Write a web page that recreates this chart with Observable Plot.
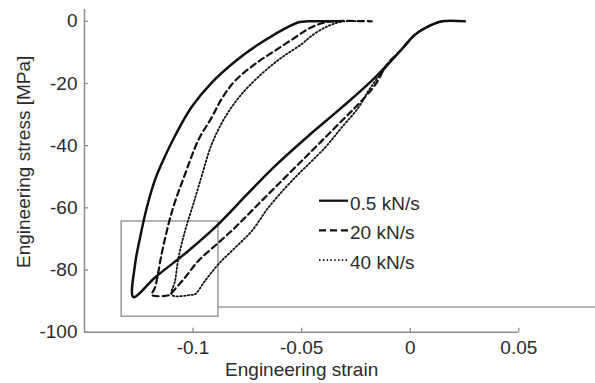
<!DOCTYPE html>
<html><head><meta charset="utf-8">
<script src="https://cdn.jsdelivr.net/npm/d3@7"></script>
<script src="https://cdn.jsdelivr.net/npm/@observablehq/plot@0.6"></script>
<style>
body{margin:0;background:#fff;}
#wrap{position:relative;width:595px;height:383px;}
</style></head><body><div id="wrap"></div>
<script>
// ---- data ----
const seriesNames = ["0.5 kN/s", "20 kN/s", "40 kN/s"];

const strain05 = [0.0251, 0.0146, 0.0100, 0.0022, -0.0038, -0.0161, -0.0315, -0.0468, -0.0622, -0.0745, -0.0899, -0.1021, -0.1175, -0.1275, -0.1267, -0.1244, -0.1213, -0.1177, -0.1145, -0.1083, -0.1006, -0.0914, -0.0808, -0.0707, -0.0622, -0.0514, -0.0468, -0.0333];
const stress05 = [0, 0, -1.1, -4.3, -8.9, -18.0, -27.7, -36.8, -46.5, -55.2, -66.3, -73.8, -82.4, -88.7, -78.1, -69.5, -59.9, -51.3, -45.8, -36.8, -27.5, -19.7, -13.0, -7.8, -4.1, -0.3, 0, 0];

const strain20 = [0.0146, 0.0100, 0.0022, -0.0038, -0.0107, -0.0161, -0.0238, -0.0315, -0.0468, -0.0622, -0.0729, -0.0806, -0.0883, -0.0975, -0.1037, -0.1098, -0.1107, -0.1190, -0.1175, -0.1145, -0.1113, -0.1083, -0.1043, -0.0975, -0.0914, -0.0868, -0.0806, -0.0714, -0.0622, -0.0530, -0.0468, -0.0407, -0.0361, -0.0177];
const stress20 = [0, -1.1, -4.3, -8.9, -13.9, -20.4, -26.6, -32.0, -42.7, -53.4, -60.9, -66.3, -71.2, -77.0, -82.4, -87.3, -88.0, -88.0, -85.6, -74.9, -65.2, -58.0, -50.3, -38.1, -30.9, -24.9, -19.1, -13.7, -9.4, -5.2, -2.4, -0.6, 0, 0];

const strain40 = [0.0146, 0.0100, 0.0022, -0.0038, -0.0094, -0.0146, -0.0192, -0.0238, -0.0315, -0.0392, -0.0545, -0.0653, -0.0729, -0.0806, -0.0883, -0.0945, -0.0991, -0.1006, -0.1098, -0.1083, -0.1067, -0.1037, -0.0999, -0.0960, -0.0914, -0.0853, -0.0776, -0.0684, -0.0591, -0.0499, -0.0453, -0.0384, -0.0315, -0.0246];
const stress40 = [0, -1.1, -4.3, -8.9, -13.3, -17.8, -22.3, -27.7, -34.1, -40.6, -51.3, -59.9, -67.4, -72.8, -78.1, -83.5, -87.8, -88.0, -88.0, -83.5, -76.0, -67.4, -58.8, -49.7, -39.5, -30.9, -23.4, -16.9, -11.6, -7.3, -4.6, -1.7, -0.1, 0];

const xTicks = [-0.1, -0.05, 0, 0.05];
const xTickLabels = ["-0.1", "-0.05", "0", "0.05"];
const yTicks = [0, -20, -40, -60, -80, -100];
const yTickLabels = ["0", "-20", "-40", "-60", "-80", "-100"];
const xDomain = [-0.15, 0.05];
const yDomain = [-100, 3.8];

// zoom box and its connector (data units)
const boxStrain = [-0.1329, -0.0883];
const boxStress = [-95.0, -64.4];
const connectorStress = [-91.9];
const connectorStrain = [-0.0883, 0.086];

const xLabel = "Engineering strain";
const yLabel = "Engineering stress [MPa]";

// ---- build table ----
const allStrain = [strain05, strain20, strain40];
const allStress = [stress05, stress20, stress40];
const rows = seriesNames.map((s, i) => allStrain[i].map((x, j) => ({series: s, strain: x, stress: allStress[i][j]})));

const axisColor = "#8c8c8c";
const textColor = "#2b2b2b";
const lineColor = "#111";
const font = "'Liberation Sans', Arial, sans-serif";

const chart = Plot.plot({
  width: 595, height: 383,
  marginLeft: 84, marginRight: 76.7, marginTop: 9, marginBottom: 51.3,
  x: {domain: xDomain, axis: null},
  y: {domain: yDomain, axis: null},
  style: {fontFamily: font, fontSize: "19px", color: textColor, background: "#fff"},
  marks: [
    Plot.ruleX([xDomain[0]], {stroke: axisColor, strokeWidth: 1.5}),
    Plot.ruleY([yDomain[0]], {stroke: axisColor, strokeWidth: 1.5}),
    Plot.axisX({anchor: "bottom", ticks: xTicks, tickSize: -4, tickPadding: 12, label: null,
      stroke: axisColor, strokeWidth: 1.3, fill: textColor, fontSize: 19,
      tickFormat: d => xTickLabels[xTicks.indexOf(d)]}),
    Plot.axisY({anchor: "left", ticks: yTicks, tickSize: -4, tickPadding: 11, label: null,
      stroke: axisColor, strokeWidth: 1.3, fill: textColor, fontSize: 19,
      tickFormat: d => yTickLabels[yTicks.indexOf(d)]}),
    Plot.rect([0], {x1: () => boxStrain[0], x2: () => boxStrain[1], y1: () => boxStress[0], y2: () => boxStress[1],
      fill: "none", stroke: "#999", strokeWidth: 1.5}),
    Plot.ruleY(connectorStress, {x1: connectorStrain[0], x2: connectorStrain[1], stroke: "#999", strokeWidth: 1.5}),
    Plot.line(rows[2], {x: "strain", y: "stress", stroke: lineColor, strokeWidth: 1.8, strokeDasharray: "1.5,2.2", curve: "catmull-rom"}),
    Plot.line(rows[1], {x: "strain", y: "stress", stroke: lineColor, strokeWidth: 2.2, strokeDasharray: "6,4", curve: "catmull-rom"}),
    Plot.line(rows[0], {x: "strain", y: "stress", stroke: lineColor, strokeWidth: 2.5, curve: "catmull-rom"}),
    Plot.text([xLabel], {text: d => d, frameAnchor: "bottom", textAnchor: "middle", dy: 37.5, lineAnchor: "middle", fontSize: 19, fill: textColor}),
    Plot.text([yLabel], {text: d => d, frameAnchor: "left", textAnchor: "middle", rotate: -90, dx: -60.5, dy: -9, lineAnchor: "middle", fontSize: 19, fill: textColor})
  ]
});
const wrap = document.getElementById("wrap");
wrap.appendChild(chart);

// ---- legend overlay ----
const legendStyles = [
  {dash: null, width: 2.3},
  {dash: "7,4", width: 2.2},
  {dash: "1.5,2.3", width: 1.8}
];
const leg = d3.select(wrap).append("svg")
  .attr("width", 595).attr("height", 383)
  .style("position", "absolute").style("left", "0").style("top", "0")
  .style("pointer-events", "none");
const legendTop = 200.7, legendStep = 29.7;
seriesNames.forEach((name, i) => {
  const y = legendTop + i * legendStep;
  leg.append("line").attr("x1", 319).attr("x2", 348).attr("y1", y).attr("y2", y)
    .attr("stroke", lineColor).attr("stroke-width", legendStyles[i].width)
    .attr("stroke-dasharray", legendStyles[i].dash);
  leg.append("text").attr("x", 350).attr("y", y + 9)
    .attr("font-family", font).attr("font-size", 19).attr("fill", textColor)
    .text(name);
});
</script>
</body></html>
